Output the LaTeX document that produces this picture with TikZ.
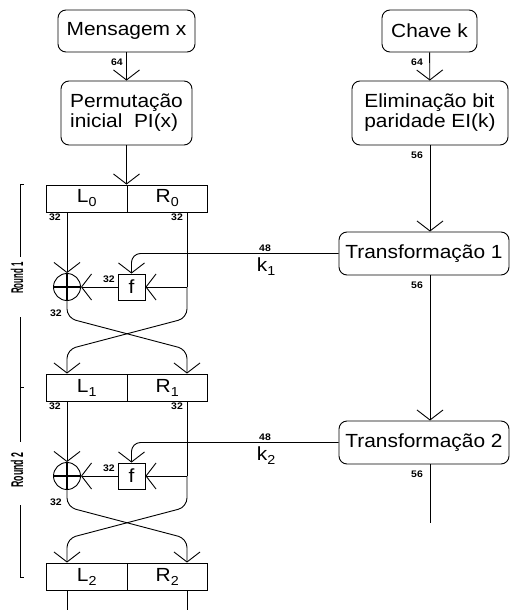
\documentclass[tikz,border=0pt]{standalone}
\usepackage{fontspec}
\setmainfont{Liberation Sans}[FakeStretch=1.1]
\usepackage{tikz}
\usetikzlibrary{arrows.meta,positioning,calc}
\newcommand\lowix[1]{\raisebox{-4pt}{\fontsize{13}{13}\selectfont #1}}

\begin{document}
\begin{tikzpicture}[x=1pt,y=-1pt,line width=0.9pt,
    txt/.style={font=\fontsize{19}{20}\selectfont},
    num/.style={font=\bfseries\fontsize{9.5}{9.5}\selectfont,inner sep=0pt},
    rbox/.style={txt,draw,rounded corners=8pt,inner sep=0pt},
    half/.style={txt,draw,minimum width=80.5pt,minimum height=27pt,inner sep=0pt},
    fbox/.style={txt,draw,minimum width=27pt,minimum height=26pt,inner sep=0pt},
    xorc/.style={circle,draw,minimum size=27pt,inner sep=0pt,
      path picture={\draw[line width=2.6pt] (path picture bounding box.north) -- (path picture bounding box.south)
        (path picture bounding box.west) -- (path picture bounding box.east);}},
    arr/.style={-{Straight Barb[length=10pt,width=26pt]}},
    rlbl/.style={rotate=90,inner sep=0pt}]
  \useasboundingbox (0,0) rectangle (510,610);

  \node[rbox,minimum width=137pt,minimum height=42pt] (msg) at (126.5,31) {Mensagem x};
  \node[rbox,minimum width=131pt,minimum height=64pt,align=left] (perm) at (126.5,113) {Permutação\\inicial~ PI(x)};
  \node[rbox,minimum width=95pt,minimum height=42pt] (chave) at (429.5,31) {Chave k};
  \node[rbox,minimum width=156pt,minimum height=64pt,align=left] (elim) at (430,113) {Eliminação bit\\paridade EI(k)};

  \foreach \i/\y in {0/198.5,1/387.5,2/576.5}{
    \node[half] (L\i) at (86.75,\y) {L\lowix{\i}};
    \node[half] (R\i) at (167.25,\y) {R\lowix{\i}};
  }

  \draw[arr] (msg) -- (perm);
  \node[num] at (117,62) {64};
  \draw[arr] (perm.south) -- (perm.south |- L0.north);
  \draw[arr] (chave) -- (elim);
  \node[num] at (417,62) {64};
  \node[num] at (417,155) {56};

  \foreach \i/\p/\y in {1/0/287,2/1/476}{
    \node[xorc] (x\i) at (67,\y) {};
    \node[fbox] (f\i) at (131.5,\y) {f};
    \coordinate (c\i) at (187,\y);
    \node[rbox,minimum width=170pt,minimum height=43pt] (T\i) at (424,{\y-33.5}) {Transformação \i};
    \draw[arr] (x\i |- L\p.south) -- (x\i.north);
    \draw (c\i |- R\p.south) -- (c\i);
    \draw[arr] (c\i) -- (f\i.east);
    \draw[arr] (f\i.west) -- (x\i.east);
    \draw[arr,rounded corners=9pt] (T\i.west) -- (f\i |- T\i.west) -- (f\i.north);
    % cruzamento das metades
    \draw[arr,rounded corners=9pt] (x\i.south) -- ++(0,17) -- ($(c\i |- R\i.north)+(0,-24)$) -- (c\i |- R\i.north);
    \draw[arr,rounded corners=9pt] (c\i) -- ++(0,31) -- ($(x\i |- L\i.north)+(0,-24)$) -- (x\i |- L\i.north);
    \node[num] at (55,{\y-70}) {32};
    \node[num] at (177,{\y-70}) {32};
    \node[num] at (56,{\y+26}) {32};
    \node[num] at (109,{\y-8}) {32};
    \node[num] at (265,{\y-39}) {48};
    \node[txt] at (266,{\y-20}) {k\lowix{\i}};
    \node[num] at (417,{\y-2}) {56};
  }

  \draw[arr] (elim.south) -- (elim.south |- T1.north);
  \draw[arr] (elim.south |- T1.south) -- (elim.south |- T2.north);
  \draw (elim.south |- T2.south) -- ++(0,59);
  \draw (x2 |- L2.south) -- ++(0,20);
  \draw (c2 |- R2.south) -- ++(0,20);

  % rounds
  \draw (24,184) -- (20,184) -- (20,257) (20,317) -- (20,387) -- (24,387);
  \draw (20,387) -- (20,442) (20,505) -- (20,577) -- (24,577);
  \node[rlbl] at (17,278) {\scalebox{0.42}[1]{\bfseries\fontsize{17}{17}\selectfont Round 1}};
  \node[rlbl] at (17,470) {\scalebox{0.47}[1]{\bfseries\fontsize{17}{17}\selectfont Round 2}};
\end{tikzpicture}
\end{document}
